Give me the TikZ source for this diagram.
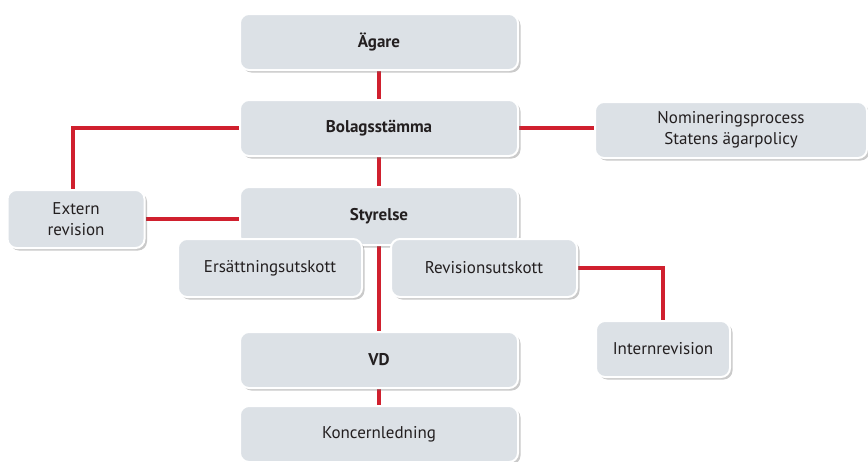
\documentclass[tikz,border=0pt]{standalone}
\usepackage{fontspec}
\setmainfont{PT Sans}
\usetikzlibrary{shadows,backgrounds}
\definecolor{boxgray}{HTML}{DCE1E6}
\definecolor{linered}{HTML}{D0202E}
\definecolor{txt}{HTML}{231F20}
\tikzset{
  orgbox/.style={rectangle, rounded corners=9pt, fill=boxgray, draw=white,
    line width=2pt, text=txt, align=center, inner sep=0pt,
    font=\fontsize{17}{21}\selectfont,
    drop shadow={opacity=0.35, shadow xshift=2.5pt, shadow yshift=-2.5pt, fill=black!60}},
  mainbox/.style={orgbox, minimum width=278pt, minimum height=56pt, font=\fontsize{17}{21}\selectfont\bfseries},
  conn/.style={draw=linered, line width=3.5pt}
}
\begin{document}
\begin{tikzpicture}[x=1pt,y=-1pt]
\useasboundingbox (0,0) rectangle (868,461);
\node[mainbox] (agare) at (379,42) {Ägare};
\node[mainbox] (bolag) at (379,128) {Bolagsstämma};
\node[orgbox, minimum width=272pt, minimum height=56pt] (nom) at (731,130) {Nomineringsprocess\\Statens ägarpolicy};
\node[orgbox, minimum width=137pt, minimum height=58pt] (extern) at (76,219) {Extern\\revision};
\node[mainbox, minimum height=58pt] (styr) at (379,216) {\raisebox{1pt}{Styrelse}};
\node[orgbox, minimum width=184pt, minimum height=58pt] (ers) at (270,268) {Ersättningsutskott};
\node[orgbox, minimum width=186pt, minimum height=58pt] (rev) at (484,268) {Revisionsutskott};
\node[orgbox, minimum width=134pt, minimum height=56pt] (intern) at (663,349) {Internrevision};
\node[mainbox] (vd) at (379,360) {VD};
\node[orgbox, minimum width=278pt, minimum height=56pt] (koncern) at (379,434) {Koncernledning};
\coordinate (kneeL) at (73,128);
\coordinate (kneeR) at (663,268);
\begin{pgfonlayer}{background}
\path[conn] (agare) -- (bolag);
\path[conn] (bolag) -- (styr);
\path[conn] (bolag.west) -- (kneeL) -- (kneeL |- extern.north);
\path[conn] (bolag.east) -- (bolag.east -| nom.west);
\path[conn] (extern) -- (extern -| styr.west);
\path[conn] (styr) -- (vd);
\path[conn] (rev) -- (kneeR) -- (intern);
\path[conn] (vd) -- (koncern);
\end{pgfonlayer}
\end{tikzpicture}
\end{document}
